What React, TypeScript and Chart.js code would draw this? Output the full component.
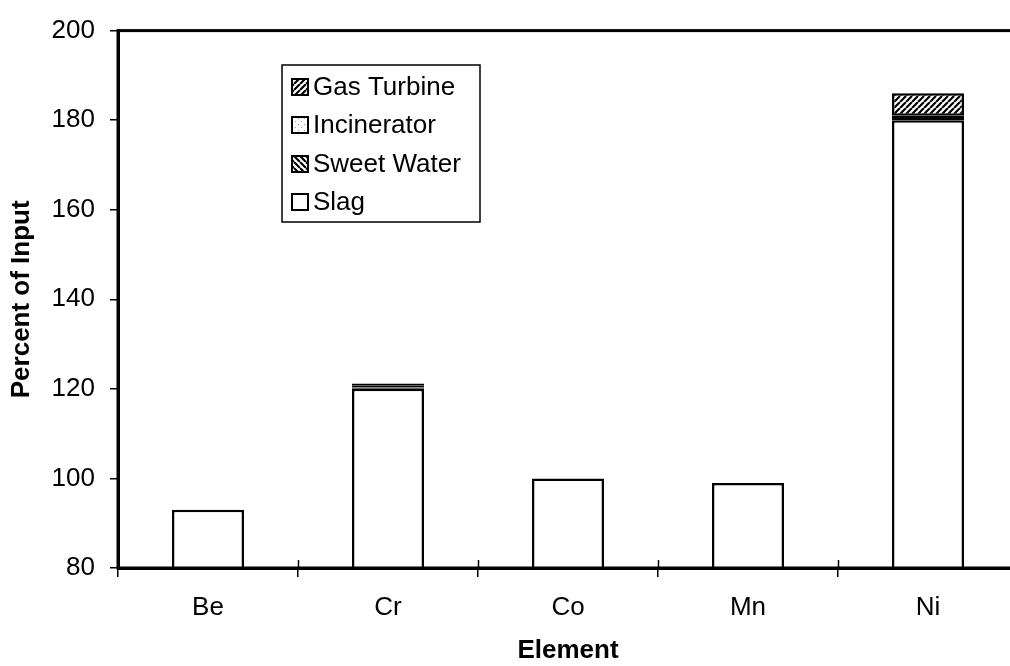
import React, { useEffect, useRef } from "react";
import { Chart, registerables } from "chart.js";

Chart.register(...registerables);

const categories = ["Be", "Cr", "Co", "Mn", "Ni"];
const slag = [93, 120, 100, 99, 180];
const sweetWater = [null, 0.3, null, null, 0.5];
const incinerator = [null, 0.5, null, null, 0.5];
const gasTurbine = [null, 0.4, null, null, 5.0];
const yTicks = [80, 100, 120, 140, 160, 180, 200];

const FONT = "'Liberation Sans', Arial, sans-serif";
const FS = 26;

function makePattern(kind: string): CanvasPattern | string {
  const c = document.createElement("canvas");
  const s = 6;
  c.width = s;
  c.height = s;
  const g = c.getContext("2d")!;
  g.fillStyle = "#ffffff";
  g.fillRect(0, 0, s, s);
  if (kind === "fwd" || kind === "back") {
    g.strokeStyle = "#000000";
    g.lineWidth = 2.2;
    g.beginPath();
    if (kind === "fwd") {
      for (let k = -1; k <= 1; k++) {
        g.moveTo(k * s, s);
        g.lineTo(k * s + s, 0);
      }
    } else {
      for (let k = -1; k <= 1; k++) {
        g.moveTo(k * s, 0);
        g.lineTo(k * s + s, s);
      }
    }
    g.stroke();
  } else if (kind === "dots") {
    g.fillStyle = "#9a9a9a";
    g.fillRect(1, 1, 1, 1);
    g.fillRect(4, 4, 1, 1);
  }
  const p = g.createPattern(c, "repeat");
  return p || "#ffffff";
}

const framePlugin = {
  id: "frameAndLegend",
  afterDraw(chart: any) {
    const ctx = chart.ctx;
    const { left, right, top, bottom } = chart.chartArea;
    ctx.save();
    ctx.strokeStyle = "#000";
    ctx.lineWidth = 3;
    ctx.strokeRect(left, top, right - left, bottom - top);
    const n = chart.data.labels.length;
    const w = (right - left) / n;
    ctx.lineWidth = 1.5;
    ctx.beginPath();
    for (let i = 1; i < n; i++) {
      const x = Math.round(left + i * w) + 0.5;
      ctx.moveTo(x, bottom - 8);
      ctx.lineTo(x, bottom);
    }
    ctx.stroke();

    // legend
    const bx = 282, by = 65, bw = 198, bh = 157;
    ctx.fillStyle = "#fff";
    ctx.fillRect(bx, by, bw, bh);
    ctx.lineWidth = 1.5;
    ctx.strokeRect(bx, by, bw, bh);
    const ds = chart.data.datasets.slice().reverse();
    const rows = [87, 125, 164, 202];
    ctx.font = `${FS}px ${FONT}`;
    ctx.textBaseline = "middle";
    ds.forEach((d: any, i: number) => {
      const y = rows[i];
      const ms = 16;
      ctx.fillStyle = d.backgroundColor;
      ctx.fillRect(292, y - ms / 2, ms, ms);
      ctx.lineWidth = 2;
      ctx.strokeStyle = "#000";
      ctx.strokeRect(292, y - ms / 2, ms, ms);
      ctx.fillStyle = "#000";
      ctx.fillText(d.label, 313, y + 1);
    });
    ctx.restore();
  },
};

export default function App() {
  const ref = useRef<HTMLCanvasElement | null>(null);
  useEffect(() => {
    if (!ref.current) return;
    const common = {
      borderColor: "#000",
      borderWidth: 2.5,
      borderSkipped: false as any,
      barPercentage: 0.4,
      categoryPercentage: 1,
    };
    const chart = new Chart(ref.current, {
      type: "bar",
      data: {
        labels: categories,
        datasets: [
          { label: "Slag", data: slag, backgroundColor: "#ffffff", ...common },
          { label: "Sweet Water", data: sweetWater as any, backgroundColor: makePattern("back") as any, ...common },
          { label: "Incinerator", data: incinerator as any, backgroundColor: makePattern("dots") as any, ...common },
          { label: "Gas Turbine", data: gasTurbine as any, backgroundColor: makePattern("fwd") as any, ...common },
        ],
      },
      options: {
        animation: false,
        responsive: false,
        maintainAspectRatio: false,
        layout: { padding: { top: 22, right: 2, left: 0, bottom: 0 } },
        plugins: { legend: { display: false }, tooltip: { enabled: false } },
        scales: {
          x: {
            stacked: true,
            offset: true,
            afterFit: (s: any) => { s.height = 98; },
            grid: { offset: true, drawOnChartArea: false, tickLength: 9, color: "#000", lineWidth: 1.5 },
            border: { color: "#000", width: 3 },
            ticks: { color: "#000", font: { family: FONT, size: FS }, padding: 15 },
            title: { display: true, text: "Element", color: "#000", font: { family: FONT, size: FS, weight: "bold" }, padding: { top: 0, bottom: 0 } },
          },
          y: {
            stacked: true,
            min: yTicks[0],
            max: yTicks[yTicks.length - 1],
            afterFit: (s: any) => { s.width = 118; },
            afterBuildTicks: (s: any) => { s.ticks = yTicks.map((v) => ({ value: v })); },
            grid: { drawOnChartArea: false, tickLength: 8, color: "#000", lineWidth: 1.5 },
            border: { color: "#000", width: 3 },
            ticks: { color: "#000", font: { family: FONT, size: FS }, padding: 15 },
            title: { display: true, text: "Percent of Input", color: "#000", font: { family: FONT, size: FS, weight: "bold" }, padding: { top: 6, bottom: 0 } },
          },
        },
      },
      plugins: [framePlugin],
    });
    return () => chart.destroy();
  }, []);
  return (
    <div style={{ position: "fixed", left: 0, top: 0, width: 1010, height: 666, overflow: "hidden", background: "#fff" }}>
      <canvas ref={ref} width={1020} height={666} style={{ width: 1020, height: 666, display: "block" }} />
    </div>
  );
}
